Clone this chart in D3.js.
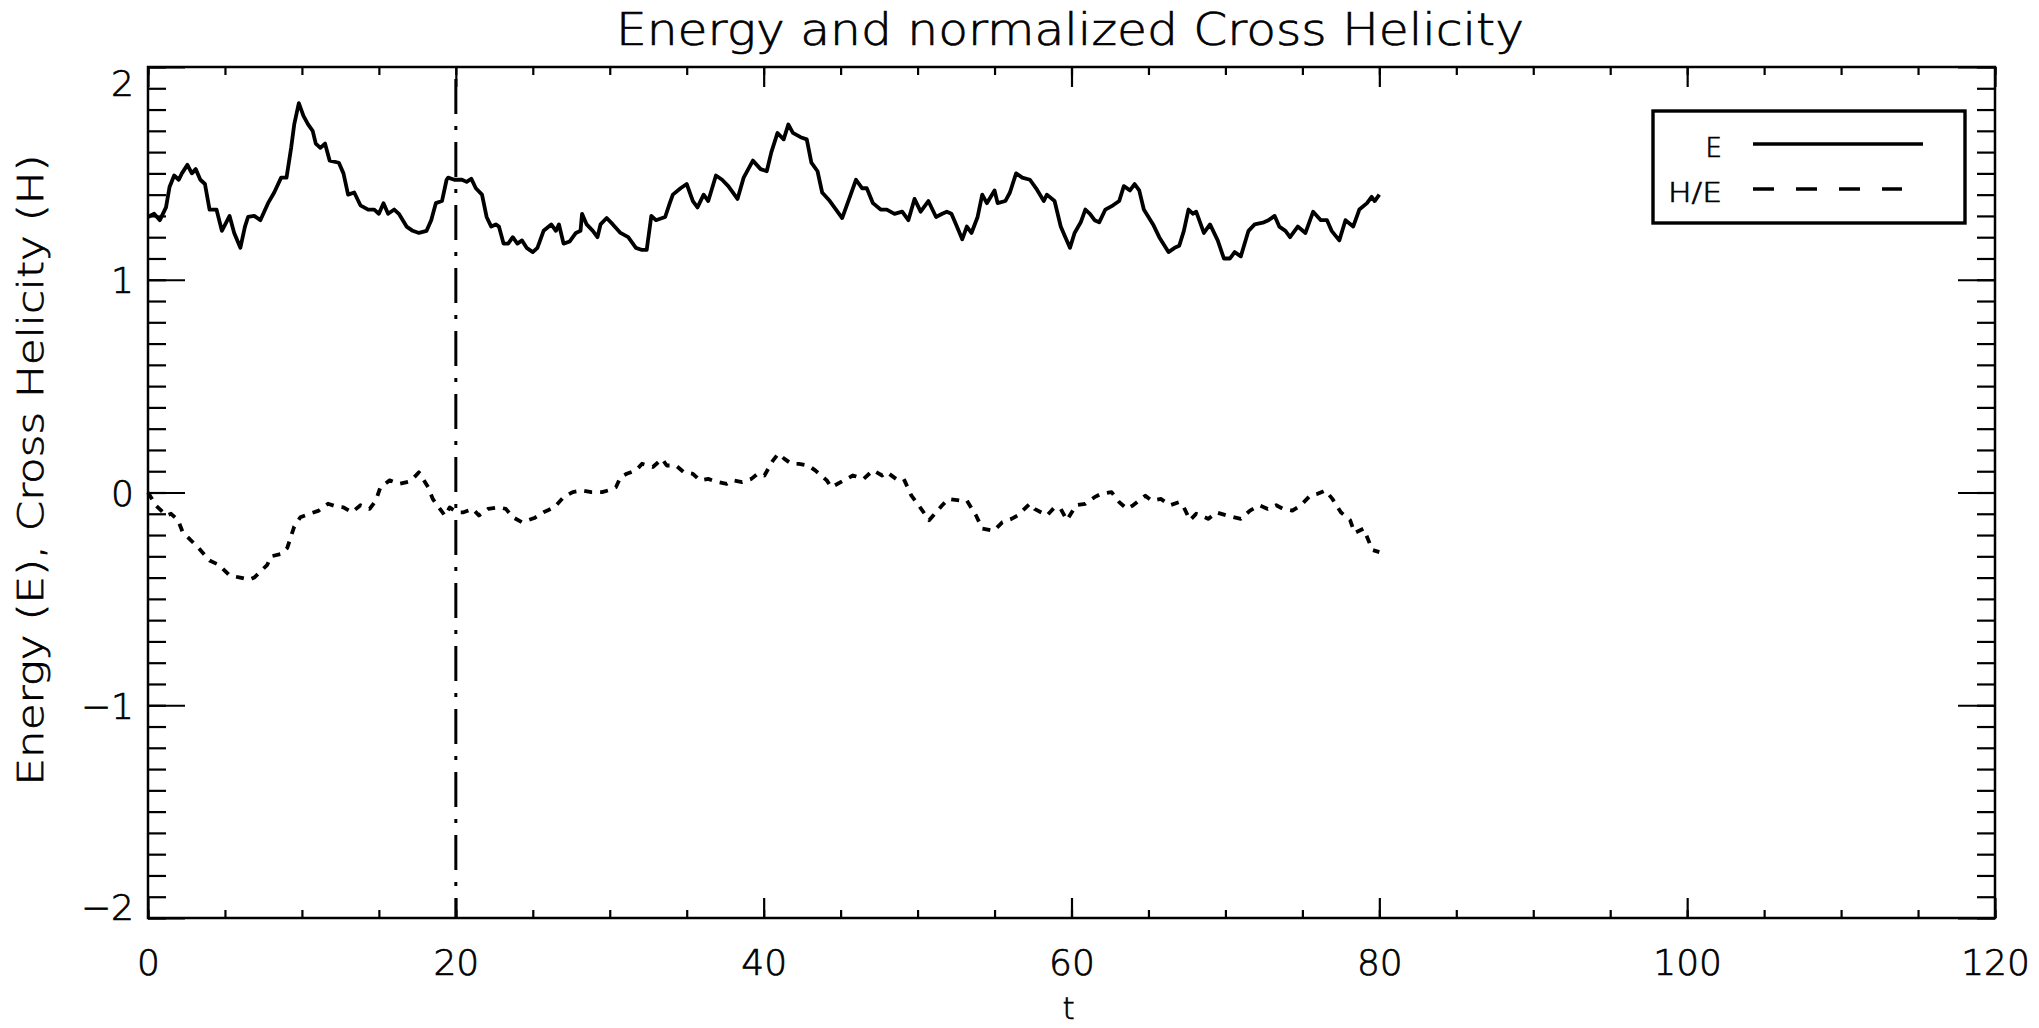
<!DOCTYPE html>
<html>
<head>
<meta charset="utf-8">
<script src="https://cdn.jsdelivr.net/npm/d3@7"></script>
<style>
  html, body { margin: 0; padding: 0; background: #fff; }
  svg { display: block; }
  text { font-family: "DejaVu Sans", "Liberation Sans", sans-serif; font-weight: 200; fill: #000; stroke: #000; stroke-width: 0.7px; }
</style>
</head>
<body>
<svg id="chart" width="2039" height="1028"></svg>
<script>
// ---- data -------------------------------------------------------------
// Energy E(t)
const eTime = [
  0, 0.4, 0.77, 1.17, 1.4, 1.7, 2.0, 2.2, 2.56, 2.85, 3.1, 3.4, 3.7, 4.0, 4.45, 4.8, 5.3, 5.6, 6.0, 6.3,
  6.5, 6.9, 7.3, 7.8, 8.2, 8.65, 9.0, 9.3, 9.5, 9.8, 10.1, 10.4, 10.7, 10.9, 11.2, 11.5, 11.8, 12.4, 12.7, 13.0,
  13.4, 13.8, 14.3, 14.7, 15.0, 15.3, 15.6, 16.0, 16.3, 16.8, 17.2, 17.6, 18.1, 18.4, 18.7, 19.1, 19.4, 19.5, 19.9, 20.4,
  20.7, 21.0, 21.3, 21.7, 22.0, 22.3, 22.6, 22.8, 23.1, 23.4, 23.7, 24.0, 24.3, 24.6, 25.0, 25.3, 25.7, 26.2, 26.5, 26.7,
  27.0, 27.4, 27.8, 28.1, 28.2, 28.5, 28.9, 29.2, 29.4, 29.8, 30.2, 30.7, 31.2, 31.7, 32.1, 32.4, 32.7, 33.0, 33.6, 33.9,
  34.1, 34.6, 35.0, 35.4, 35.7, 36.1, 36.4, 36.9, 37.3, 37.7, 38.3, 38.7, 39.3, 39.8, 40.2, 40.5, 40.9, 41.3, 41.6, 41.9,
  42.4, 42.8, 43.1, 43.5, 43.8, 44.3, 44.7, 45.1, 45.6, 46.0, 46.4, 46.7, 47.1, 47.6, 48.0, 48.5, 49.0, 49.4, 49.8, 50.2,
  50.7, 51.2, 51.6, 51.9, 52.2, 52.5, 52.9, 53.2, 53.5, 53.9, 54.2, 54.5, 55.0, 55.2, 55.7, 56.0, 56.4, 56.8, 57.3, 57.7,
  58.2, 58.4, 58.9, 59.3, 59.6, 59.9, 60.2, 60.6, 60.9, 61.2, 61.5, 61.8, 62.2, 62.7, 63.1, 63.4, 63.8, 64.1, 64.4, 64.7,
  65.3, 65.7, 66.3, 66.7, 67.0, 67.3, 67.6, 67.9, 68.1, 68.6, 69.0, 69.5, 69.9, 70.3, 70.6, 71.0, 71.5, 71.9, 72.5, 72.8,
  73.2, 73.5, 73.9, 74.2, 74.7, 75.2, 75.7, 76.2, 76.6, 76.9, 77.4, 77.8, 78.3, 78.7, 79.2, 79.5, 79.7, 80.0
];
const energy = [
  1.295, 1.31, 1.28, 1.34, 1.436, 1.49, 1.47, 1.50, 1.54, 1.50, 1.52, 1.47, 1.45, 1.33, 1.33, 1.23, 1.30, 1.22, 1.15, 1.25,
  1.295, 1.30, 1.28, 1.36, 1.41, 1.48, 1.48, 1.62, 1.73, 1.83, 1.77, 1.73, 1.70, 1.64, 1.62, 1.64, 1.56, 1.55, 1.50, 1.40,
  1.41, 1.35, 1.33, 1.33, 1.31, 1.36, 1.31, 1.33, 1.31, 1.25, 1.23, 1.22, 1.23, 1.28, 1.36, 1.37, 1.47, 1.48, 1.47, 1.47,
  1.46, 1.475, 1.43, 1.40, 1.295, 1.25, 1.26, 1.25, 1.17, 1.17, 1.20, 1.17, 1.185, 1.15, 1.13, 1.15, 1.23, 1.26, 1.23, 1.26,
  1.17, 1.18, 1.22, 1.23, 1.31, 1.26, 1.23, 1.20, 1.26, 1.29, 1.26, 1.22, 1.20, 1.15, 1.14, 1.14, 1.30, 1.28, 1.295, 1.36,
  1.40, 1.43, 1.45, 1.37, 1.34, 1.40, 1.37, 1.49, 1.47, 1.44, 1.38, 1.48, 1.56, 1.52, 1.51, 1.60, 1.69, 1.66, 1.73, 1.69,
  1.67, 1.66, 1.55, 1.51, 1.41, 1.37, 1.33, 1.29, 1.39, 1.47, 1.43, 1.43, 1.36, 1.33, 1.33, 1.31, 1.32, 1.28, 1.38, 1.32,
  1.37, 1.295, 1.31, 1.32, 1.31, 1.26, 1.19, 1.25, 1.22, 1.295, 1.40, 1.36, 1.42, 1.36, 1.37, 1.41, 1.50, 1.48, 1.47, 1.43,
  1.37, 1.40, 1.37, 1.25, 1.20, 1.15, 1.22, 1.27, 1.33, 1.31, 1.28, 1.27, 1.33, 1.35, 1.37, 1.44, 1.42, 1.45, 1.42, 1.33,
  1.26, 1.20, 1.13, 1.15, 1.16, 1.23, 1.33, 1.31, 1.32, 1.22, 1.26, 1.185, 1.10, 1.10, 1.13, 1.11, 1.23, 1.26, 1.27, 1.28,
  1.30, 1.25, 1.23, 1.20, 1.25, 1.22, 1.32, 1.28, 1.28, 1.23, 1.185, 1.28, 1.25, 1.33, 1.36, 1.39, 1.37, 1.40
];

// Normalized cross helicity H/E(t)
const hTime = [
  0, 0.5, 1.2, 1.5, 1.95, 2.25, 3.0, 3.4, 4.0, 4.6, 5.3, 6.0, 6.6, 6.9, 7.75, 8.0, 8.6, 9.05, 9.5, 9.9,
  10.5, 11.1, 11.7, 12.24, 12.7, 13.25, 13.8, 14.4, 14.8, 15.1, 15.7, 16.3, 16.9, 17.2, 17.6, 18.2, 18.5, 18.9, 19.3, 19.6,
  20.06, 20.5, 21.1, 21.5, 22.1, 22.8, 23.25, 23.7, 24.3, 24.7, 25.1, 25.7, 26.4, 27.0, 27.6, 28.2, 28.8, 29.5, 29.9, 30.4,
  30.7, 31.1, 31.7, 32.1, 32.8, 33.4, 33.7, 34.3, 34.8, 35.4, 35.85, 36.4, 37.0, 37.6, 38.0, 38.6, 39.2, 39.6, 40.05, 40.6,
  40.95, 41.35, 41.8, 42.3, 42.9, 43.35, 44.1, 44.4, 45.4, 45.8, 46.5, 47.1, 47.7, 48.0, 48.6, 49.1, 49.6, 50.0, 50.75, 51.6,
  52.0, 52.8, 53.2, 53.8, 54.2, 54.95, 55.5, 56.1, 56.5, 57.3, 57.6, 58.4, 58.9, 59.3, 59.7, 60.3, 60.9, 61.5, 61.9, 62.6,
  63.1, 63.6, 64.0, 64.8, 65.2, 65.8, 66.4, 67.0, 67.3, 67.7, 68.1, 68.9, 69.4, 70.1, 71.0, 71.6, 72.2, 72.75, 73.3, 73.75,
  74.35, 74.9, 75.5, 75.95, 76.5, 76.95, 77.5, 78.1, 78.4, 78.98, 79.55, 80.0
];
const crossHelicity = [
  0, -0.06, -0.108, -0.10, -0.13, -0.186, -0.24, -0.27, -0.32, -0.34, -0.39, -0.40, -0.41, -0.40, -0.34, -0.30, -0.29, -0.26, -0.16, -0.116,
  -0.10, -0.085, -0.053, -0.066, -0.07, -0.093, -0.06, -0.077, -0.038, 0.025, 0.057, 0.04, 0.05, 0.064, 0.095, 0.025, -0.03, -0.07, -0.11, -0.07,
  -0.093, -0.093, -0.077, -0.108, -0.077, -0.07, -0.077, -0.116, -0.14, -0.13, -0.12, -0.093, -0.07, -0.022, 0.002, 0.01, 0.002, 0.002, 0.01, 0.025,
  0.072, 0.088, 0.104, 0.135, 0.12, 0.158, 0.127, 0.127, 0.096, 0.088, 0.057, 0.064, 0.049, 0.041, 0.057, 0.049, 0.064, 0.088, 0.08, 0.15,
  0.182, 0.158, 0.135, 0.135, 0.127, 0.104, 0.057, 0.025, 0.064, 0.08, 0.064, 0.104, 0.08, 0.096, 0.064, 0.064, -0.015, -0.053, -0.13, -0.06,
  -0.03, -0.038, -0.038, -0.108, -0.17, -0.18, -0.14, -0.124, -0.108, -0.053, -0.077, -0.108, -0.07, -0.077, -0.13, -0.06, -0.053, -0.022, -0.007, 0.002,
  -0.045, -0.077, -0.06, -0.015, -0.038, -0.03, -0.06, -0.045, -0.07, -0.13, -0.10, -0.124, -0.093, -0.108, -0.124, -0.085, -0.06, -0.077, -0.06, -0.077,
  -0.085, -0.06, -0.015, -0.007, 0.01, -0.03, -0.093, -0.13, -0.19, -0.17, -0.27, -0.28
];

const xTickValues = [0, 20, 40, 60, 80, 100, 120];
const yTickValues = [-2, -1, 0, 1, 2];
const markerTime = 20;
const legendLabels = ["E", "H/E"];
const titleText = "Energy and normalized Cross Helicity";
const xTitle = "t";
const yTitle = "Energy (E), Cross Helicity (H)";

// ---- layout -----------------------------------------------------------
const plotLeft = 148, plotRight = 1995, plotTop = 67, plotBottom = 918;
const x = d3.scaleLinear().domain([0, 120]).range([plotLeft, plotRight]);
const y = d3.scaleLinear().domain([-2, 2]).range([plotBottom, plotTop]);
const svg = d3.select("#chart");

const xMinor = d3.range(0, 121, 5);
const yMinor = d3.range(-20, 21).map(d => d / 10);

function styleAxis(g) {
  g.select(".domain").remove();
  g.selectAll("line").attr("stroke", "#000").attr("stroke-width", 2.2);
}

// bottom axis
svg.append("g").attr("transform", `translate(0,${plotBottom})`)
  .call(d3.axisBottom(x).tickValues(xMinor).tickSize(-8).tickFormat(""))
  .call(styleAxis);
svg.append("g").attr("transform", `translate(0,${plotBottom})`)
  .call(d3.axisBottom(x).tickValues(xTickValues).tickSize(-20).tickFormat(d3.format("d")))
  .call(styleAxis)
  .call(g => g.selectAll("text").attr("y", 57).attr("dy", null)
    .attr("font-size", 36).attr("fill", "#000"));

// top axis
svg.append("g").attr("transform", `translate(0,${plotTop})`)
  .call(d3.axisTop(x).tickValues(xMinor).tickSize(-8).tickFormat(""))
  .call(styleAxis);
svg.append("g").attr("transform", `translate(0,${plotTop})`)
  .call(d3.axisTop(x).tickValues(xTickValues).tickSize(-20).tickFormat(""))
  .call(styleAxis);

// left axis
svg.append("g").attr("transform", `translate(${plotLeft},0)`)
  .call(d3.axisLeft(y).tickValues(yMinor).tickSize(-18).tickFormat(""))
  .call(styleAxis);
svg.append("g").attr("transform", `translate(${plotLeft},0)`)
  .call(d3.axisLeft(y).tickValues(yTickValues).tickSize(-37).tickFormat(d3.format("d")))
  .call(styleAxis)
  .call(g => g.selectAll("text")
    .attr("x", -14)
    .attr("y", d => d === 2 ? 16 : (d === -2 ? -11 : 0))
    .attr("dy", "0.36em")
    .attr("font-size", 36).attr("fill", "#000"));

// right axis
svg.append("g").attr("transform", `translate(${plotRight},0)`)
  .call(d3.axisRight(y).tickValues(yMinor).tickSize(-18).tickFormat(""))
  .call(styleAxis);
svg.append("g").attr("transform", `translate(${plotRight},0)`)
  .call(d3.axisRight(y).tickValues(yTickValues).tickSize(-37).tickFormat(""))
  .call(styleAxis);

// frame
svg.append("rect")
  .attr("x", plotLeft).attr("y", plotTop)
  .attr("width", plotRight - plotLeft).attr("height", plotBottom - plotTop)
  .attr("fill", "none").attr("stroke", "#000").attr("stroke-width", 2.5);

// vertical dash-dot marker
svg.append("line")
  .attr("x1", x(markerTime)).attr("x2", x(markerTime))
  .attr("y1", y(-2)).attr("y2", y(2))
  .attr("stroke", "#000").attr("stroke-width", 3)
  .attr("stroke-dasharray", "35,12,4,12")
  .attr("stroke-dashoffset", 15);

// series
const eLine = d3.line().x(i => x(eTime[i])).y(i => y(energy[i]));
const hLine = d3.line().x(i => x(hTime[i])).y(i => y(crossHelicity[i]));

svg.append("path")
  .attr("d", eLine(d3.range(eTime.length)))
  .attr("fill", "none").attr("stroke", "#000").attr("stroke-width", 3.8)
  .attr("stroke-linejoin", "round");

svg.append("path")
  .attr("d", hLine(d3.range(hTime.length)))
  .attr("fill", "none").attr("stroke", "#000").attr("stroke-width", 3.8)
  .attr("stroke-linejoin", "round")
  .attr("stroke-dasharray", "8,8");

// titles
svg.append("text")
  .attr("x", 616).attr("y", 45)
  .attr("font-size", 45)
  .attr("textLength", 908).attr("lengthAdjust", "spacingAndGlyphs")
  .text(titleText);

svg.append("text")
  .attr("x", (plotLeft + plotRight) / 2 - 3).attr("y", 1019)
  .attr("text-anchor", "middle")
  .attr("font-size", 31)
  .text(xTitle);

svg.append("text")
  .attr("transform", "translate(43,470) rotate(-90)")
  .attr("text-anchor", "middle")
  .attr("font-size", 36)
  .attr("textLength", 631).attr("lengthAdjust", "spacingAndGlyphs")
  .text(yTitle);

// legend
const legend = svg.append("g");
legend.append("rect")
  .attr("x", 1653).attr("y", 111).attr("width", 312).attr("height", 112)
  .attr("fill", "#fff").attr("stroke", "#000").attr("stroke-width", 3.4);
legend.append("text")
  .attr("x", 1722).attr("y", 157).attr("text-anchor", "end")
  .attr("font-size", 26).text(legendLabels[0]);
legend.append("text")
  .attr("x", 1722).attr("y", 202).attr("text-anchor", "end")
  .attr("font-size", 26)
  .attr("textLength", 54).attr("lengthAdjust", "spacingAndGlyphs")
  .text(legendLabels[1]);
legend.append("line")
  .attr("x1", 1753).attr("x2", 1923).attr("y1", 144).attr("y2", 144)
  .attr("stroke", "#000").attr("stroke-width", 3.5);
legend.append("line")
  .attr("x1", 1753).attr("x2", 1902).attr("y1", 189).attr("y2", 189)
  .attr("stroke", "#000").attr("stroke-width", 3.5)
  .attr("stroke-dasharray", "21,22");
</script>
</body>
</html>
